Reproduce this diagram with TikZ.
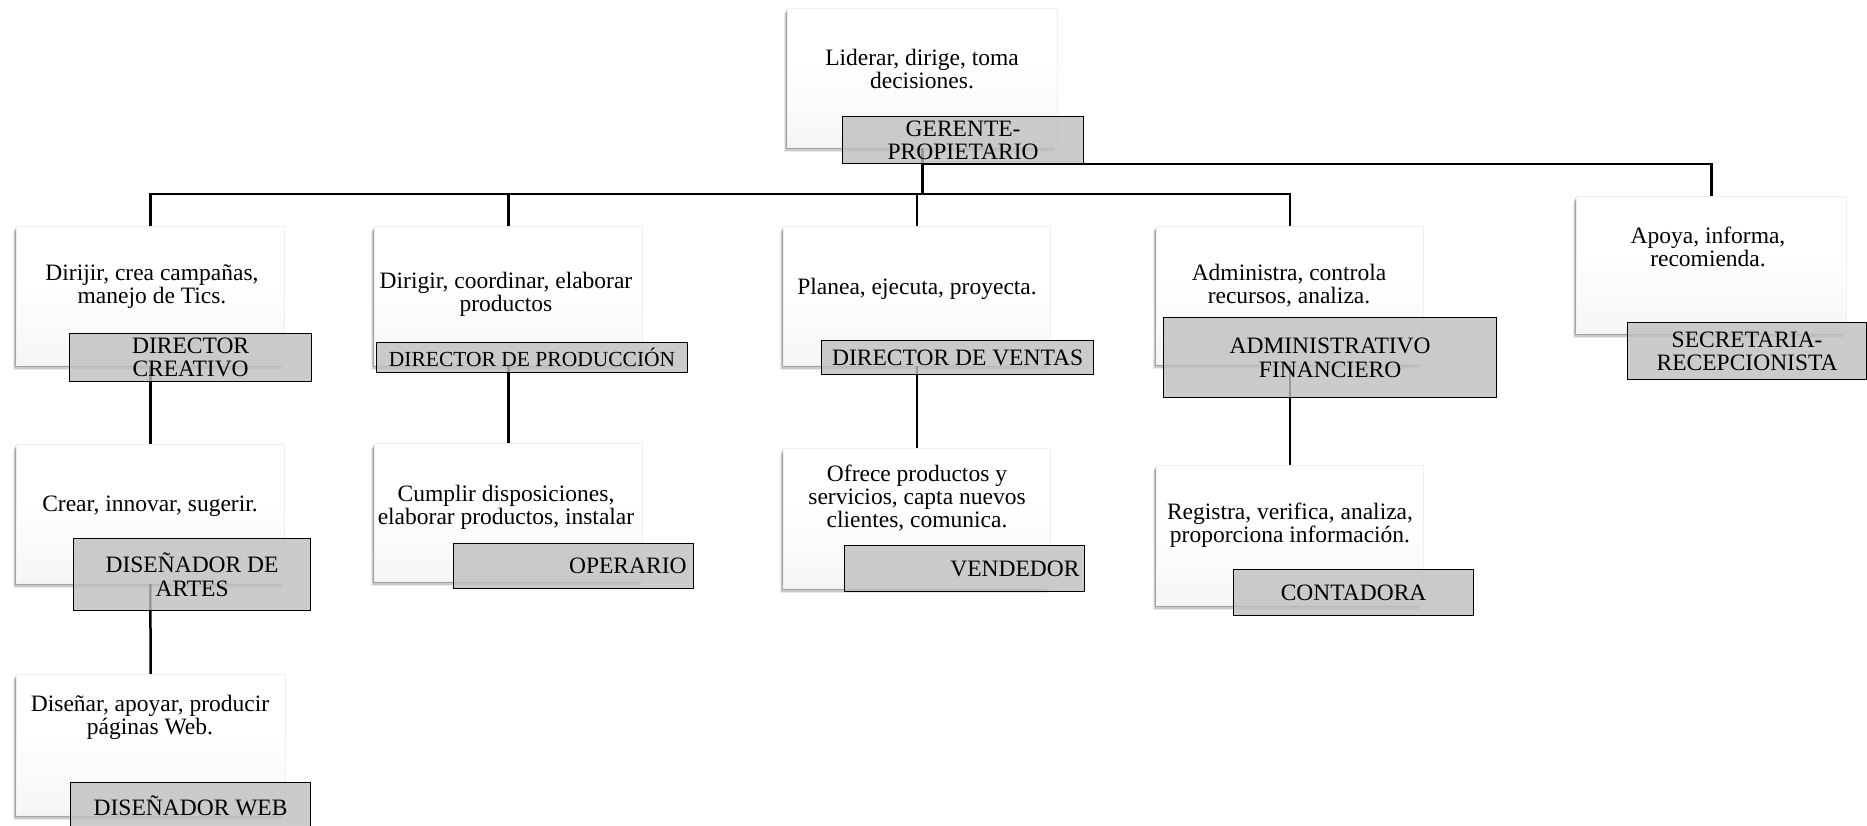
\documentclass[tikz,border=0pt]{standalone}
\usepackage{fontspec}
\setmainfont{Liberation Serif}
\usetikzlibrary{shadows}
\pgfdeclarelayer{background}
\pgfsetlayers{background,main}
\pgfdeclareverticalshading{wshade}{100bp}{color(0bp)=(black!9); color(30bp)=(black!3); color(55bp)=(white); color(100bp)=(white)}
\newcommand\mydescfont{\fontsize{23.5}{23}\selectfont}
\newcommand\mylabfont{\fontsize{23.5}{23.5}\selectfont}
\tikzset{
  wbox/.style={rectangle, inner sep=0pt, anchor=north west, draw=black!6, line width=0.5pt,
    shading=wshade,
    drop shadow={shadow xshift=-1pt, shadow yshift=-2pt, opacity=0.18, fill=black},
    drop shadow={shadow xshift=-2pt, shadow yshift=-3.5pt, opacity=0.14, fill=black},
    drop shadow={shadow xshift=-3pt, shadow yshift=-5pt, opacity=0.08, fill=black}},
  lbox/.style={rectangle, inner sep=0pt, anchor=north west, draw=black, line width=1.2pt,
    fill=black!25, fill opacity=0.8, text opacity=1, draw opacity=1, font=\mylabfont, align=center},
  desc/.style={inner sep=0pt, align=center, font=\mydescfont},
  conn/.style={line width=2.5pt, black, line join=miter},
}
\begin{document}
\begin{tikzpicture}[x=1pt,y=-1pt]
\useasboundingbox (0,0) rectangle (1867,825);
\begin{pgfonlayer}{background}
\fill[white] (0,0) rectangle (1867,825);
\end{pgfonlayer}
\coordinate (hb) at (0,194);
% white boxes
\node[wbox, minimum width=270, minimum height=139] (g)   at (787,8) {};
\node[wbox, minimum width=270, minimum height=137] (sec) at (1576,196) {};
\node[wbox, minimum width=268, minimum height=139] (dc)  at (16,226) {};
\node[wbox, minimum width=268, minimum height=139] (da)  at (16,444) {};
\node[wbox, minimum width=269, minimum height=141] (dw)  at (16,674) {};
\node[wbox, minimum width=268, minimum height=139] (dp)  at (374,226) {};
\node[wbox, minimum width=268, minimum height=138] (op)  at (374,443) {};
\node[wbox, minimum width=267, minimum height=139] (dv)  at (783,226) {};
\node[wbox, minimum width=267, minimum height=140] (ve)  at (783,448) {};
\node[wbox, minimum width=267, minimum height=138] (ad)  at (1156,226) {};
\node[wbox, minimum width=267, minimum height=140] (co)  at (1156,465) {};
% descriptions
\node[desc] (tg)  at (922,69)  {Liderar, dirige, toma\\decisiones.};
\node[desc] (tsec) at (1708,247) {Apoya, informa,\\recomienda.};
\node[desc] (tdc) at (152,287) {Dirijir, crea campañas,\\manejo de Tics.};
\node[desc] (tda) at (150,506) {Crear, innovar, sugerir.};
\node[desc] (tdw) at (150,717) {Diseñar, apoyar, producir\\páginas Web.};
\node[desc] (tdp) at (506,294) {Dirigir, coordinar, elaborar\\productos};
\node[desc] (top) at (506,507) {Cumplir disposiciones,\\elaborar productos, instalar};
\node[desc] (tdv) at (917,289) {Planea, ejecuta, proyecta.};
\node[desc] (tve) at (917,498) {Ofrece productos y\\servicios, capta nuevos\\clientes, comunica.};
\node[desc] (tad) at (1289,286) {Administra, controla\\recursos, analiza.};
\node[desc] (tco) at (1290,525) {Registra, verifica, analiza,\\proporciona información.};
% labels
\node[lbox, minimum width=241, minimum height=47] (lg)  at (842,116) {GERENTE-\\PROPIETARIO};
\node[lbox, minimum width=239, minimum height=57] (lsec) at (1627,322) {SECRETARIA-\\RECEPCIONISTA};
\node[lbox, minimum width=242, minimum height=48] (ldc) at (69,333) {DIRECTOR\\CREATIVO};
\node[lbox, minimum width=237, minimum height=72] (lda) at (73,538) {DISEÑADOR DE\\ARTES};
\node[lbox, minimum width=240, minimum height=46] (ldw) at (70,782) {DISEÑADOR WEB};
\node[lbox, minimum width=311, minimum height=30, font=\fontsize{21.5}{21.5}\selectfont] (ldp) at (376,342) {DIRECTOR DE PRODUCCIÓN};
\node[lbox, minimum width=240, minimum height=45, text width=226, align=right] (lop) at (453,543) {OPERARIO};
\node[lbox, minimum width=272, minimum height=34] (ldv) at (821,340) {DIRECTOR DE VENTAS};
\node[lbox, minimum width=240, minimum height=46, text width=230, align=right] (lve) at (844,545) {VENDEDOR};
\node[lbox, minimum width=333, minimum height=80] (lad) at (1163,317) {ADMINISTRATIVO\\FINANCIERO};
\node[lbox, minimum width=240, minimum height=46] (lco) at (1233,569) {CONTADORA};
% connectors
\begin{pgfonlayer}{background}
\draw[conn] (g.south) -- (g.south |- hb);
\draw[conn] (g.south |- lg.south) -| (sec.north);
\draw[conn] (dc.north) |- (ad.north |- hb) -- (ad.north);
\draw[conn] (dp.north) -- (dp.north |- hb);
\draw[conn] (dv.north) -- (dv.north |- hb);
\draw[conn] (dc.south) -- (da.north);
\draw[conn] (da.south) -- (dw.north);
\draw[conn] (dp.south) -- (op.north);
\draw[conn] (dv.south) -- (ve.north);
\draw[conn] (ad.south) -- (co.north);
\end{pgfonlayer}
\end{tikzpicture}
\end{document}
